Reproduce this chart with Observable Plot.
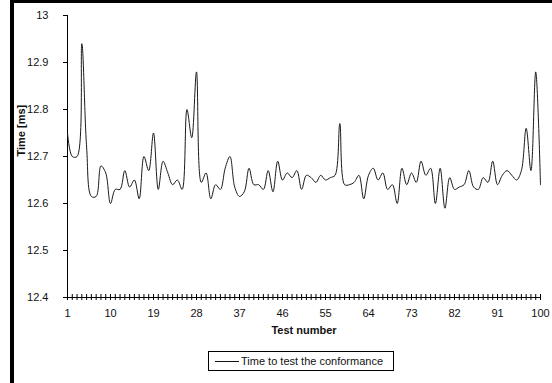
<!DOCTYPE html>
<html>
<head>
<meta charset="utf-8">
<script src="https://cdn.jsdelivr.net/npm/d3@7"></script>
<script src="https://cdn.jsdelivr.net/npm/@observablehq/plot@0.6"></script>
<style>
  body { margin: 0; background: #fff; font-family: "Liberation Sans", Arial, sans-serif; }
  #wrap { position: relative; width: 552px; height: 383px; overflow: hidden; background: #fff; }
  #chart { position: absolute; left: 0; top: 0; }
  .bar { position: absolute; background: #000; }
  #legend { position: absolute; left: 208px; top: 351px; height: 20px; width: 186px; box-sizing: border-box;
            border: 1px solid #000; display: flex; align-items: center; font-size: 11px; color: #111; padding-left: 6px; }
  #legend .swatch { width: 24px; height: 0; border-top: 1px solid #111; margin-right: 2px; }
</style>
</head>
<body>
<div id="wrap">
  <div id="chart"></div>
  <div class="bar" style="left:10px;top:0;width:4px;height:383px"></div>
  <div class="bar" style="left:10px;top:0;width:542px;height:3px"></div>
  <div id="legend"><span class="swatch"></span><span id="legendText"></span></div>
</div>
<script>
// ---- data ----
const seriesName = "Time to test the conformance";
const xTitle = "Test number";
const yTitle = "Time [ms]";
const times = [
  12.75, 12.70, 12.70, 12.94, 12.72, 12.615, 12.615, 12.68, 12.665, 12.60,
  12.63, 12.63, 12.67, 12.635, 12.65, 12.61, 12.70, 12.67, 12.75, 12.63,
  12.69, 12.665, 12.64, 12.65, 12.63, 12.80, 12.74, 12.88, 12.645, 12.665,
  12.61, 12.64, 12.63, 12.675, 12.70, 12.635, 12.615, 12.625, 12.675, 12.64,
  12.64, 12.63, 12.67, 12.625, 12.69, 12.65, 12.665, 12.655, 12.67, 12.63,
  12.66, 12.655, 12.645, 12.66, 12.65, 12.655, 12.66, 12.77, 12.64, 12.64,
  12.645, 12.66, 12.61, 12.66, 12.675, 12.65, 12.665, 12.63, 12.64, 12.60,
  12.675, 12.64, 12.665, 12.645, 12.69, 12.66, 12.675, 12.60, 12.675, 12.59,
  12.655, 12.63, 12.635, 12.64, 12.67, 12.635, 12.63, 12.655, 12.645, 12.69,
  12.64, 12.66, 12.67, 12.66, 12.65, 12.67, 12.76, 12.67, 12.88, 12.64
];
const testNumbers = times.map((t, i) => i + 1);
const xTickLabels = [1, 10, 19, 28, 37, 46, 55, 64, 73, 82, 91, 100];
const yTicks = [12.4, 12.5, 12.6, 12.7, 12.8, 12.9, 13];

const table = testNumbers.map((n, i) => ({n, t: times[i]}));

const chart = Plot.plot({
  width: 552,
  height: 345,
  marginLeft: 67,
  marginRight: 12,
  marginTop: 15,
  marginBottom: 48,
  style: {fontFamily: "'Liberation Sans', Arial, sans-serif", fontSize: "11px", color: "#111", background: "transparent"},
  x: {type: "linear", domain: [1, 100]},
  y: {domain: [12.4, 13]},
  marks: [
    Plot.axisY({ticks: yTicks, tickSize: 4, tickPadding: 15, tickFormat: d => String(d), label: null, stroke: "#000"}),
    Plot.axisX({ticks: testNumbers, tickSize: 3, tickFormat: () => "", label: null, stroke: "#000"}),
    Plot.axisX({ticks: testNumbers, tickSize: -3, tickFormat: () => "", label: null, stroke: "#000"}),
    Plot.axisX({ticks: xTickLabels, tickSize: 0, tickPadding: 12, tickFormat: d => String(d), label: null}),
    Plot.ruleY([12.4], {stroke: "#000"}),
    Plot.ruleX([1], {stroke: "#000"}),
    Plot.line(table, {x: "n", y: "t", curve: "catmull-rom", stroke: "#1a1a1a", strokeWidth: 1}),
    Plot.text([yTitle], {frameAnchor: "left", rotate: -90, dx: -46, fontWeight: "bold", fontSize: 11}),
    Plot.text([xTitle], {frameAnchor: "bottom", dy: 36, fontWeight: "bold", fontSize: 11})
  ]
});
document.getElementById("chart").appendChild(chart);
document.getElementById("legendText").textContent = seriesName;
</script>
</body>
</html>
